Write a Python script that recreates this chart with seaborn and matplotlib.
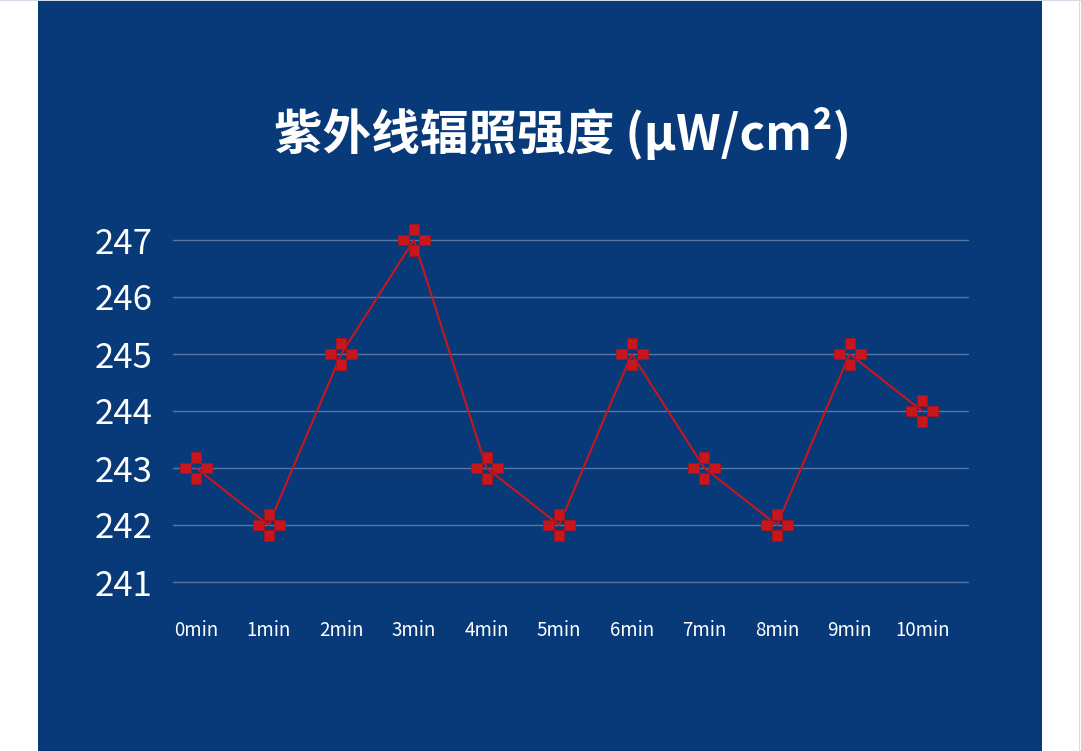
import numpy as np
import matplotlib
matplotlib.use("Agg")
import matplotlib.pyplot as plt
from matplotlib.path import Path
from matplotlib.patches import Rectangle
import seaborn as sns
import pandas as pd

categories = ["0min", "1min", "2min", "3min", "4min", "5min", "6min", "7min", "8min", "9min", "10min"]
values = [243, 242, 245, 247, 243, 242, 245, 243, 242, 245, 244]
y_ticks = [241, 242, 243, 244, 245, 246, 247]
title = "紫外线辐照强度 (μW/cm²)"

PANEL = "#083979"
RED = "#C8161D"
GRID = "#5577A8"

sns.set_theme(style="white")
plt.rcParams['font.family'] = ['Noto Sans CJK SC', 'DejaVu Sans']

fig = plt.figure(figsize=(10.81, 7.51), dpi=100)
fig.patch.set_facecolor("white")
# panel background
fig.add_artist(Rectangle((38 / 1081, 0), (1042 - 38) / 1081, 750 / 751,
                         transform=fig.transFigure, facecolor=PANEL, edgecolor="none", zorder=0))
fig.add_artist(Rectangle((0, 750 / 751), 1, 1 / 751, transform=fig.transFigure,
                         facecolor="#D3DCE8", edgecolor="none", zorder=0))
fig.add_artist(Rectangle((1079 / 1081, 0), 1 / 1081, 1, transform=fig.transFigure,
                         facecolor="#D3DCE8", edgecolor="none", zorder=0))

ax = fig.add_axes([173 / 1081, 169 / 751, (968 - 173) / 1081, (582 - 240) / 751])
ax.set_facecolor("none")

# cross marker made of four squares
def sq(cx, cy, h=0.5):
    return [(cx - h, cy - h), (cx + h, cy - h), (cx + h, cy + h), (cx - h, cy + h), (cx - h, cy - h)]
verts, codes = [], []
for c in [(0, 1), (-1, 0), (1, 0), (0, -1)]:
    verts += sq(*c)
    codes += [Path.MOVETO, Path.LINETO, Path.LINETO, Path.LINETO, Path.CLOSEPOLY]
cross = Path(np.array(verts) / 1.5, codes)

df = pd.DataFrame({"x": np.arange(len(categories)), "y": values})
sns.lineplot(data=df, x="x", y="y", ax=ax, color=RED, linewidth=1.5,
             marker=cross, markersize=23, markerfacecolor=RED,
             markeredgecolor="#A8131A", markeredgewidth=0.6, clip_on=False, zorder=3)

ax.set_xlim(-0.317, 10.63)
ax.set_ylim(241, 247)
ax.set_yticks(y_ticks)
ax.set_xticks(np.arange(len(categories)))
ax.set_xticklabels(categories)
ax.set_xlabel("")
ax.set_ylabel("")
ax.yaxis.grid(True, color=GRID, linewidth=1)
ax.xaxis.grid(False)
ax.set_axisbelow(True)
for gl in ax.get_ygridlines():
    gl.set_clip_on(False)
for s in ax.spines.values():
    s.set_visible(False)
ax.tick_params(axis="y", length=0, pad=15, labelsize=25, labelcolor="white")
ax.tick_params(axis="x", length=0, pad=27, labelsize=13.5, labelcolor="white")

fig.text(562 / 1081, 1 - 133 / 751, title, color="white", ha="center", va="center",
         fontsize=35, fontweight="bold")

fig.savefig("out.png", dpi=100, facecolor=fig.get_facecolor())
